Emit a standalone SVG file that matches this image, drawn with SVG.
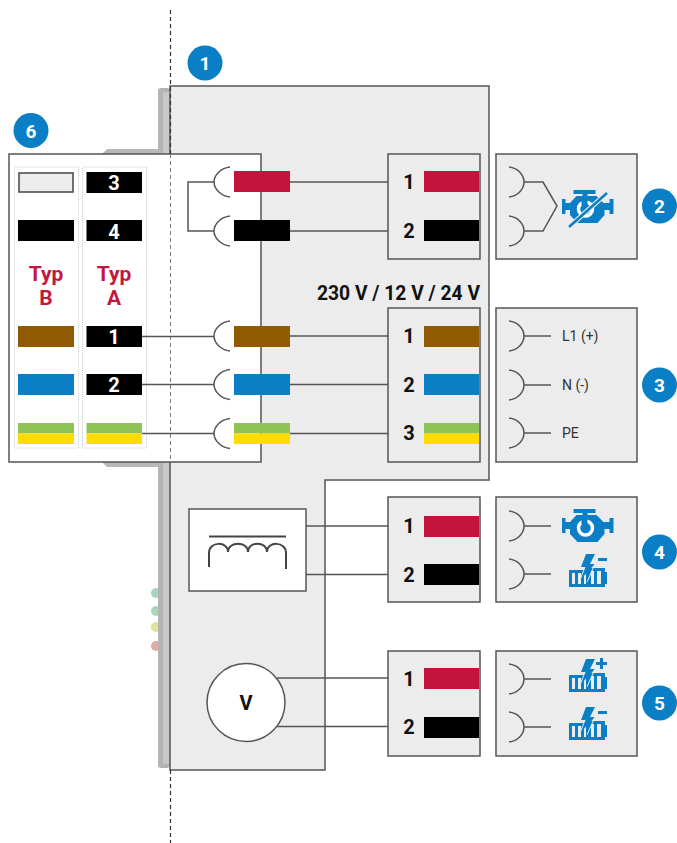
<svg xmlns="http://www.w3.org/2000/svg" xmlns:xlink="http://www.w3.org/1999/xlink" width="677" height="843" viewBox="0 0 677 843">
<style>
text{font-family:"Roboto","Liberation Sans",sans-serif}
.box{fill:#ececec;stroke:#555;stroke-width:1.5}
.w{stroke:#555;stroke-width:1.5;fill:none}
.pin{font-size:20px;font-weight:700;fill:#111;text-anchor:middle}
.wn{font-size:20px;font-weight:700;fill:#fff;text-anchor:middle}
.typ{font-size:21px;font-weight:700;fill:#c4173f;text-anchor:middle}
.lab{font-size:14px;fill:#333}
.num{font-size:19px;font-weight:700;fill:#fff;text-anchor:middle}
.ic{fill:#0a7fc6}
.red{fill:#c4143c}.blk{fill:#000}.brn{fill:#8f5a00}.blu{fill:#0a7fc6}.grn{fill:#8fc356}.yel{fill:#ffdc00}
</style>
<defs>
<circle id="b" r="17.5" fill="#0a7fc6"/>
<path id="sockL" class="w" d="M13,-15 C4,-14 -3,-7 -3,0 C-3,7 4,14 13,15"/>
<path id="sockR" class="w" d="M0,-15 C9,-14 15,-7 15,0 C15,7 9,14 0,15"/>
<g id="eng">
<path class="ic" d="M-25.500,-8 H-22 V-4 H-17.500 L-11,-11 H-5 V-13 H-14 V-17 H8 V-13 H0 V-11 H9 L16,-4 H22 V-8 H26 V7 H22 V3 H17 V8 L10,16 H-10 L-17.500,8 V3 H-22 V7 H-25.500 Z"/>
<circle cx="-2" cy="2" r="7" fill="none" stroke="#fff" stroke-width="3.500"/>
<path d="M-6,-7 h6 v5 h-6z" class="ic"/>
</g>
<g id="bat">
<path class="ic" fill-rule="evenodd" d="M-19,-3 H-4 L-2,-5 H17 V-1 H19 V11 H17 V14 H-19 Z M-16,0 V11 H-13 V0 Z M-10,0 V11 H-7 V0 Z M-4,1 V11 H-2 V0 Z M3,-2 V11 H6 V-2 Z M9,-2 V11 H13 V-2 Z"/>
<path class="ic" d="M-2,-19 H7 L2,-9 H7 L-8,7 L-3,-6 H-7 Z"/>
<path d="M-8,7 L-3,-6 M-1,9 L7,-9" stroke="#ececec" stroke-width="1"/>
</g>
</defs>

<g id="rail">
<circle cx="156" cy="593" r="5" fill="#a9d4bd"/>
<circle cx="156" cy="611" r="5" fill="#a9d4bd"/>
<circle cx="156" cy="627" r="5" fill="#e5e09a"/>
<circle cx="156" cy="646" r="5" fill="#e2aaa4"/>
<rect x="158" y="88" width="12" height="680" rx="3" fill="#b4b4b4"/>
<rect x="163" y="92" width="7" height="672" fill="#c8c8c8"/>
<path d="M102,154 l5,-5 H158 V154 Z M102,462 l5,5 H158 V462 Z" fill="#b8b8b8"/>
</g>

<g id="node-1">
<path class="box" d="M170,86 H489 V480 H325 V770 H170 Z"/>
<use xlink:href="#b" href="#b" x="205" y="63"/>
<text class="num" x="205" y="70">1</text>
</g>

<g id="node-6">
<rect x="9" y="154" width="252" height="308" fill="#fff" stroke="#555" stroke-width="1.500"/>
<rect x="14.500" y="167" width="64" height="281" fill="#fff" stroke="#ccc" stroke-dasharray="1 1"/>
<rect x="82.500" y="167" width="64" height="281" fill="#fff" stroke="#ccc" stroke-dasharray="1 1"/>
<rect x="19" y="173" width="54" height="19" fill="#ececec" stroke="#444" stroke-width="1.500"/>
<rect x="18" y="220" width="56" height="21" class="blk"/>
<rect x="18" y="326" width="56" height="21" class="brn"/>
<rect x="18" y="374" width="56" height="21" class="blu"/>
<rect x="18" y="423" width="56" height="10.500" class="grn"/>
<rect x="18" y="433.500" width="56" height="10.500" class="yel"/>
<rect x="86.500" y="172" width="55.500" height="21" class="blk"/>
<rect x="86.500" y="220" width="55.500" height="21" class="blk"/>
<rect x="86.500" y="326" width="55.500" height="21" class="blk"/>
<rect x="86.500" y="374" width="55.500" height="21" class="blk"/>
<rect x="86.500" y="423" width="55.500" height="10.500" class="grn"/>
<rect x="86.500" y="433.500" width="55.500" height="10.500" class="yel"/>
<text class="wn" x="114" y="190">3</text>
<text class="wn" x="114" y="239">4</text>
<text class="wn" x="114" y="344">1</text>
<text class="wn" x="114" y="392">2</text>
<text class="typ" x="46" y="281">Typ</text>
<text class="typ" x="46" y="305">B</text>
<text class="typ" x="114" y="281">Typ</text>
<text class="typ" x="114" y="305">A</text>
<use xlink:href="#b" href="#b" x="31" y="130.500"/>
<text class="num" x="31" y="137.500">6</text>
</g>

<g id="connectors">
<path d="M170.500,10 V154 M170.500,770 V843" stroke="#333" stroke-width="1.200" stroke-dasharray="4 3" fill="none"/>
<path d="M170.500,154 V462" stroke="#777" stroke-width="1" stroke-dasharray="4 3" fill="none"/>
<path class="w" d="M214,182 H188 V231 H214"/>
<path class="w" d="M290,182 H388 M290,231 H388"/>
<path class="w" d="M142,336.500 H214 M142,384.500 H214 M142,433.500 H214"/>
<path class="w" d="M290,336 H388 M290,384.500 H388 M290,433.500 H388"/>
<path class="w" d="M306,526 H388 M306,574.500 H388"/>
<path class="w" d="M277,678 H388 M277,726.500 H388"/>
</g>

<g id="plug-pairs">
<use xlink:href="#sockL" href="#sockL" x="217" y="182"/>
<use xlink:href="#sockL" href="#sockL" x="217" y="231"/>
<use xlink:href="#sockL" href="#sockL" x="217" y="336"/>
<use xlink:href="#sockL" href="#sockL" x="217" y="384.500"/>
<use xlink:href="#sockL" href="#sockL" x="217" y="433.500"/>
<rect x="234" y="171" width="56" height="21" class="red"/>
<rect x="234" y="220" width="56" height="21" class="blk"/>
<rect x="234" y="326" width="56" height="21" class="brn"/>
<rect x="234" y="374" width="56" height="21" class="blu"/>
<rect x="234" y="423" width="56" height="10.500" class="grn"/>
<rect x="234" y="433.500" width="56" height="10.500" class="yel"/>
</g>

<g id="term-a">
<rect class="box" x="388" y="154" width="92" height="105"/>
<rect x="424" y="171" width="55" height="21" class="red"/>
<rect x="424" y="220" width="55" height="21" class="blk"/>
<text class="pin" x="409" y="189">1</text>
<text class="pin" x="409" y="238">2</text>
</g>
<g id="term-b">
<text x="480" y="300" text-anchor="end" font-size="20" font-weight="700" fill="#111" textLength="163" lengthAdjust="spacingAndGlyphs">230 V / 12 V / 24 V</text>
<rect class="box" x="388" y="308" width="92" height="154"/>
<rect x="424" y="326" width="55" height="21" class="brn"/>
<rect x="424" y="374" width="55" height="21" class="blu"/>
<rect x="424" y="423" width="55" height="10.500" class="grn"/>
<rect x="424" y="433.500" width="55" height="10.500" class="yel"/>
<text class="pin" x="409" y="343">1</text>
<text class="pin" x="409" y="392">2</text>
<text class="pin" x="409" y="440">3</text>
</g>
<g id="term-c">
<rect class="box" x="388" y="497" width="92" height="105"/>
<rect x="424" y="516" width="55" height="21" class="red"/>
<rect x="424" y="564" width="55" height="21" class="blk"/>
<text class="pin" x="409" y="533">1</text>
<text class="pin" x="409" y="582">2</text>
</g>
<g id="term-d">
<rect class="box" x="388" y="651" width="92" height="105"/>
<rect x="424" y="668" width="55" height="21" class="red"/>
<rect x="424" y="717" width="55" height="21" class="blk"/>
<text class="pin" x="409" y="686">1</text>
<text class="pin" x="409" y="734">2</text>
</g>

<g id="transformer">
<rect x="189" y="509" width="117" height="82" fill="#fff" stroke="#555" stroke-width="1.500"/>
<path d="M209,536.500 H286" stroke="#444" stroke-width="2" fill="none"/>
<path d="M209,567 V553 C209,541 228,541 228,552 C228,541 248,541 248,552 C248,541 267,541 267,552 C267,541 286,541 286,553 V569" stroke="#444" stroke-width="2" fill="none"/>
</g>
<g id="voltmeter">
<circle cx="246" cy="702.500" r="39" fill="#fff" stroke="#555" stroke-width="1.500"/>
<text x="246" y="710" text-anchor="middle" font-size="20" font-weight="700" fill="#111">V</text>
</g>

<g id="node-2">
<rect class="box" x="496" y="154" width="141" height="105"/>
<use xlink:href="#sockR" href="#sockR" x="509" y="182"/>
<use xlink:href="#sockR" href="#sockR" x="509" y="231"/>
<path class="w" d="M524,182 H543 L557,206 L543,231 H524"/>
<use xlink:href="#eng" href="#eng" x="587.500" y="207"/>
<path d="M569,227 L607,193" stroke="#ececec" stroke-width="5"/>
<path d="M569,227 L607,193" stroke="#0a7fc6" stroke-width="2.500"/>
<use xlink:href="#b" href="#b" x="659.500" y="206"/>
<text class="num" x="659.500" y="213">2</text>
</g>
<g id="node-3">
<rect class="box" x="496" y="308" width="141" height="154"/>
<use xlink:href="#sockR" href="#sockR" x="509" y="336"/>
<use xlink:href="#sockR" href="#sockR" x="509" y="385"/>
<use xlink:href="#sockR" href="#sockR" x="509" y="433"/>
<path class="w" d="M524,336 H551 M524,385 H551 M524,433 H551"/>
<text class="lab" x="562" y="341">L1 (+)</text>
<text class="lab" x="562" y="390">N (-)</text>
<text class="lab" x="562" y="438">PE</text>
<use xlink:href="#b" href="#b" x="659.500" y="385"/>
<text class="num" x="659.500" y="392">3</text>
</g>
<g id="node-4">
<rect class="box" x="496" y="497" width="141" height="105"/>
<use xlink:href="#sockR" href="#sockR" x="509" y="526"/>
<use xlink:href="#sockR" href="#sockR" x="509" y="574"/>
<path class="w" d="M524,526 H551 M524,574 H551"/>
<use xlink:href="#eng" href="#eng" x="587.500" y="526"/>
<use xlink:href="#bat" href="#bat" x="588" y="573"/>
<rect x="598" y="558" width="9" height="3" class="ic"/>
<use xlink:href="#b" href="#b" x="659.500" y="552"/>
<text class="num" x="659.500" y="559">4</text>
</g>
<g id="node-5">
<rect class="box" x="496" y="651" width="141" height="105"/>
<use xlink:href="#sockR" href="#sockR" x="509" y="679"/>
<use xlink:href="#sockR" href="#sockR" x="509" y="727"/>
<path class="w" d="M524,679 H551 M524,727 H551"/>
<use xlink:href="#bat" href="#bat" x="588" y="678"/>
<path class="ic" d="M600,658 h3 v4 h4 v3 h-4 v4 h-3 v-4 h-4 v-3 h4z"/>
<use xlink:href="#bat" href="#bat" x="588" y="726"/>
<rect x="598" y="711" width="9" height="3" class="ic"/>
<use xlink:href="#b" href="#b" x="659.500" y="703"/>
<text class="num" x="659.500" y="710">5</text>
</g>
</svg>
